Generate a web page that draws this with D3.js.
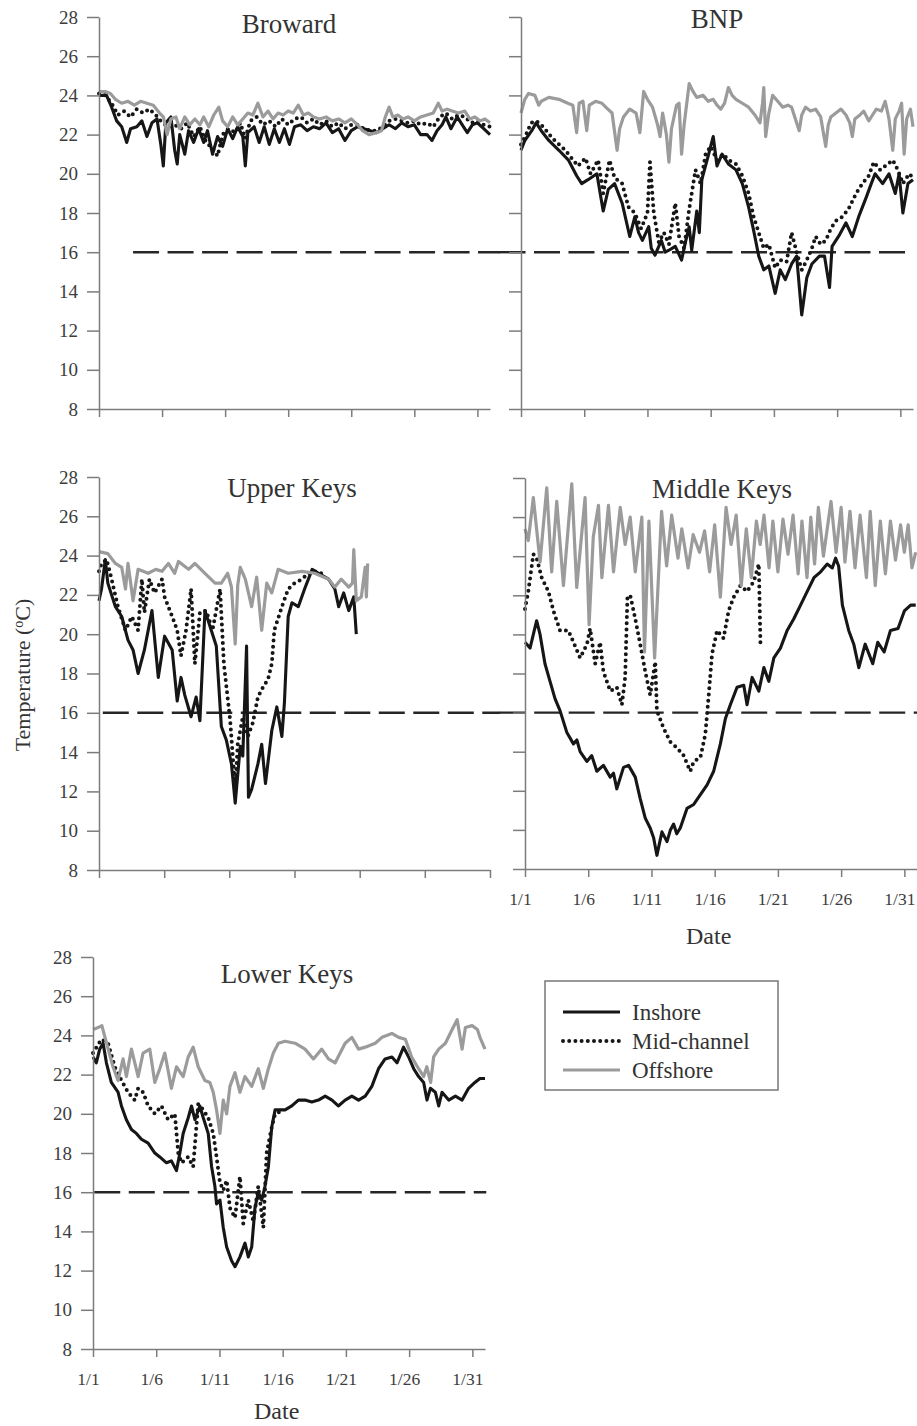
<!DOCTYPE html>
<meta charset="utf-8">
<script src="https://cdn.jsdelivr.net/npm/d3@7"></script>
<style>
body { margin: 0; background: #fff; }
svg { display: block; font-family: "Liberation Serif", "Times New Roman", serif; }
.axis path, .axis line { stroke: #7c7c7c; stroke-width: 1.5; }
.axis text { fill: #3c3c3c; font-size: 19px; font-family: "Liberation Serif", "Times New Roman", serif; }
.xaxis text { font-size: 17.5px; }
.inshore { fill: none; stroke: #161616; stroke-width: 3.1; stroke-linejoin: round; }
.mid { fill: none; stroke: #161616; stroke-width: 4; stroke-dasharray: 0 6.2; stroke-linecap: round; }
.offshore { fill: none; stroke: #9b9b9b; stroke-width: 3.2; stroke-linejoin: round; }
.threshold { stroke: #262626; stroke-width: 2.4; stroke-dasharray: 26 8.5; }
.title { font-size: 27px; fill: #333; text-anchor: middle; }
.label { font-size: 24px; fill: #333; text-anchor: middle; }
</style>
<svg width="917" height="1426"></svg>
<script>

// day offsets from 1/1, temperature in degC
var tempTicks = [8, 10, 12, 14, 16, 18, 20, 22, 24, 26, 28];
var dateTicks = [0, 5, 10, 15, 20, 25, 30];
var dateLabels = ["1/1", "1/6", "1/11", "1/16", "1/21", "1/26", "1/31"];
var upperTicks = [0, 5.17, 10.33, 15.5, 20.67, 25.83, 31];
var threshold = 16;
var seriesNames = ["Inshore", "Mid-channel", "Offshore"];

var browardInshore = [[0,24.0],[0.6,24.0],[1.0,23.4],[1.4,22.7],[1.8,22.4],[2.2,21.6],[2.5,22.3],[3.0,22.4],[3.4,22.7],[3.8,21.9],[4.2,22.6],[4.6,22.8],[4.9,21.5],[5.1,20.4],[5.3,22.6],[5.7,22.9],[6.0,21.2],[6.2,20.5],[6.4,22.0],[6.8,21.0],[7.1,22.2],[7.5,21.6],[7.9,22.3],[8.3,21.6],[8.6,22.2],[9.0,21.0],[9.4,21.9],[9.8,21.4],[10.2,22.3],[10.6,21.8],[11.0,22.4],[11.4,21.9],[11.6,20.4],[11.8,22.1],[12.3,22.4],[12.7,21.6],[13.1,22.4],[13.5,21.5],[13.9,22.3],[14.3,21.6],[14.7,22.3],[15.1,21.5],[15.5,22.4],[16.0,22.5],[16.5,22.2],[17.0,22.4],[17.5,22.3],[18.0,22.6],[18.5,22.1],[19.0,22.3],[19.5,21.7],[20.0,22.2],[20.5,22.4],[21.0,22.3],[21.5,22.2],[22.0,22.1],[22.5,22.3],[23.0,22.5],[23.5,22.3],[24.0,22.6],[24.5,22.4],[25.0,22.5],[25.5,22.0],[26.0,22.0],[26.4,21.7],[26.8,22.2],[27.2,22.5],[27.5,22.9],[27.9,22.3],[28.4,22.9],[28.8,22.5],[29.2,22.1],[29.6,22.5],[30.0,22.6],[30.5,22.3],[31.0,22.0]];
var browardMid = [[0,24.1],[0.5,24.0],[1.0,23.6],[1.5,23.0],[2.0,23.2],[2.5,22.9],[3.0,23.3],[3.5,23.1],[4.0,23.3],[4.5,23.0],[5.0,22.6],[5.5,22.4],[6.0,22.5],[6.5,22.3],[7.0,22.6],[7.5,21.9],[8.0,22.4],[8.5,21.6],[9.0,21.3],[9.4,20.9],[9.8,22.0],[10.3,22.3],[10.8,22.1],[11.2,22.6],[11.6,21.8],[12.0,22.7],[12.5,22.9],[13.0,22.5],[13.5,22.7],[14.0,22.4],[14.5,22.8],[15.0,22.5],[15.5,22.8],[16.0,22.9],[16.5,22.6],[17.0,22.8],[17.5,22.5],[18.0,22.7],[18.5,22.4],[19.0,22.6],[19.5,22.3],[20.0,22.5],[20.5,22.5],[21.0,22.3],[21.5,22.2],[22.0,22.2],[22.5,22.4],[23.0,22.7],[23.5,22.8],[24.0,22.7],[24.5,22.6],[25.0,22.7],[25.5,22.5],[26.0,22.6],[26.5,22.4],[27.0,22.9],[27.5,23.1],[28.0,22.8],[28.5,23.0],[29.0,22.9],[29.5,22.6],[30.0,22.7],[30.5,22.5],[31.0,22.4]];
var browardOffshore = [[0,24.2],[0.5,24.2],[0.9,24.1],[1.3,23.8],[1.8,23.6],[2.3,23.7],[2.8,23.5],[3.3,23.7],[3.8,23.6],[4.3,23.5],[4.8,23.1],[5.1,22.9],[5.4,22.0],[5.7,22.8],[6.1,22.9],[6.4,22.3],[6.8,22.9],[7.2,22.5],[7.6,22.8],[8.0,22.5],[8.3,22.9],[8.7,22.4],[9.1,23.0],[9.5,23.4],[9.8,22.7],[10.2,22.4],[10.6,22.9],[11.0,22.5],[11.4,22.8],[11.8,23.1],[12.2,23.0],[12.6,23.6],[13.0,22.9],[13.4,23.2],[13.8,22.8],[14.2,23.1],[14.6,23.0],[15.0,23.2],[15.4,23.1],[15.8,23.5],[16.2,23.0],[16.6,23.1],[17.0,22.9],[17.5,22.8],[18.0,22.9],[18.5,22.7],[19.0,22.8],[19.5,22.6],[20.0,22.8],[20.5,22.5],[20.9,22.2],[21.4,22.0],[22.0,22.1],[22.4,22.2],[22.7,22.9],[23.0,23.4],[23.3,22.9],[23.7,23.0],[24.1,22.8],[24.5,22.9],[25.0,22.7],[25.5,22.9],[26.0,23.0],[26.5,23.1],[26.9,23.6],[27.2,23.2],[27.6,23.3],[28.0,23.2],[28.5,23.1],[29.0,23.2],[29.4,22.8],[29.8,22.9],[30.2,22.7],[30.6,22.8],[31.0,22.6]];

var bnpInshore = [[0,21.2],[0.3,21.7],[0.85,22.2],[1.2,22.6],[1.6,22.2],[2.2,21.7],[3.0,21.2],[3.75,20.7],[4.4,19.9],[4.8,19.5],[5.3,19.7],[6.0,20.0],[6.5,18.1],[6.9,19.2],[7.4,19.5],[8.0,18.5],[8.6,16.8],[9.0,17.8],[9.3,17.0],[9.6,16.6],[10.1,17.3],[10.3,16.2],[10.6,15.85],[11.1,16.6],[11.4,16.0],[11.7,16.1],[12.2,16.3],[12.7,15.6],[13.0,16.5],[13.3,17.3],[13.5,16.1],[13.9,18.1],[14.1,17.0],[14.3,19.7],[14.8,20.9],[15.2,21.9],[15.5,20.4],[15.9,21.0],[16.4,20.5],[17.0,20.2],[17.5,19.5],[18.0,18.3],[18.4,17.1],[18.8,15.8],[19.2,15.1],[19.6,15.3],[20.1,13.9],[20.5,15.1],[20.9,14.6],[21.4,15.4],[21.8,15.8],[22.2,12.8],[22.6,14.7],[23.0,15.4],[23.6,15.8],[24.0,15.8],[24.4,14.2],[24.6,16.3],[25.2,16.9],[25.7,17.5],[26.2,16.8],[26.7,17.8],[27.3,18.8],[27.7,19.5],[28.0,20.0],[28.6,19.5],[29.1,20.0],[29.6,19.0],[29.9,20.0],[30.2,18.0],[30.6,19.5],[31.0,19.7]];
var bnpMid = [[0,21.5],[0.4,22.0],[0.8,22.6],[1.2,22.7],[1.6,22.5],[2.0,22.2],[2.5,21.8],[3.0,21.5],[3.5,21.2],[4.0,20.8],[4.5,20.4],[5.1,20.8],[5.5,20.0],[6.1,20.7],[6.5,19.0],[7.0,20.7],[7.4,19.8],[8.0,19.5],[8.5,18.3],[9.0,18.0],[9.5,17.2],[10.0,18.0],[10.2,20.6],[10.5,18.0],[10.9,16.5],[11.3,17.0],[11.7,16.4],[12.2,18.5],[12.5,16.8],[12.9,16.2],[13.3,18.2],[13.8,20.2],[14.2,19.5],[14.6,21.0],[15.0,21.4],[15.5,20.7],[16.0,21.0],[16.4,20.7],[17.0,20.5],[17.5,19.9],[18.0,19.0],[18.4,17.8],[18.8,17.0],[19.2,16.2],[19.6,16.4],[20.1,15.2],[20.5,15.6],[21.0,15.5],[21.4,17.0],[21.8,16.0],[22.2,15.1],[22.6,15.6],[23.0,16.2],[23.3,16.8],[23.7,16.4],[24.1,16.6],[24.5,17.2],[24.9,17.6],[25.4,17.8],[25.9,18.2],[26.5,19.0],[27.0,19.5],[27.5,19.9],[27.9,20.6],[28.4,20.2],[28.8,20.4],[29.4,20.7],[29.8,20.2],[30.2,19.5],[30.7,20.0],[31.0,19.8]];
var bnpOffshore = [[0,23.1],[0.3,23.8],[0.6,24.1],[1.1,24.0],[1.4,23.5],[1.6,23.7],[2.2,23.9],[3.0,23.8],[3.7,23.6],[4.1,23.5],[4.4,22.1],[4.6,23.6],[4.9,23.7],[5.2,22.2],[5.4,23.5],[5.9,23.7],[6.4,23.6],[6.7,23.4],[7.2,23.1],[7.6,21.2],[7.8,22.3],[8.1,22.9],[8.6,23.3],[9.1,23.1],[9.4,22.1],[9.7,24.2],[10.0,23.8],[10.4,23.4],[10.8,22.5],[11.0,21.9],[11.2,23.1],[11.5,22.0],[11.7,20.6],[11.9,22.3],[12.3,23.5],[12.5,23.6],[12.7,21.0],[12.9,22.5],[13.3,24.6],[13.6,24.2],[13.9,23.9],[14.4,24.0],[14.8,23.7],[15.2,23.8],[15.5,23.5],[15.8,23.3],[16.1,23.6],[16.4,24.4],[16.7,24.0],[17.0,23.8],[17.5,23.6],[18.0,23.4],[18.5,23.0],[18.9,22.6],[19.1,23.6],[19.2,24.4],[19.35,21.9],[19.6,23.1],[19.9,24.0],[20.3,23.7],[20.7,23.4],[21.1,23.5],[21.4,23.4],[21.7,22.8],[22.0,22.2],[22.2,23.0],[22.5,23.4],[22.9,23.2],[23.3,23.3],[23.7,22.9],[24.1,21.4],[24.3,22.5],[24.5,22.9],[24.9,23.1],[25.3,23.3],[25.7,23.0],[26.0,22.6],[26.2,21.9],[26.4,22.8],[26.8,23.0],[27.1,23.2],[27.5,22.7],[27.8,23.0],[28.1,23.3],[28.5,23.2],[28.8,23.7],[29.1,22.8],[29.4,21.2],[29.6,22.8],[29.9,23.2],[30.1,23.6],[30.3,21.0],[30.5,22.8],[30.8,23.3],[31.0,22.4]];

var upperInshore = [[0,21.7],[0.2,22.3],[0.5,23.8],[0.7,22.6],[1.3,21.4],[1.8,20.9],[2.3,19.7],[2.7,19.2],[3.1,18.0],[3.6,19.2],[4.2,21.2],[4.7,17.8],[5.2,19.9],[5.8,19.2],[6.2,16.6],[6.5,17.8],[6.8,16.9],[7.3,15.8],[7.7,16.8],[8.0,15.6],[8.4,21.2],[8.9,20.2],[9.3,19.4],[9.7,15.3],[10.1,14.6],[10.5,13.4],[10.8,11.4],[11.2,14.3],[11.4,13.8],[11.7,19.4],[11.85,11.7],[12.1,12.1],[12.6,13.4],[12.9,14.4],[13.2,12.4],[13.7,15.1],[14.1,16.3],[14.5,14.8],[14.7,16.5],[15.0,20.9],[15.3,21.6],[15.8,21.4],[16.3,22.3],[16.9,23.3],[17.4,23.1],[18.2,22.8],[18.7,22.3],[19.0,21.4],[19.4,22.1],[19.8,21.2],[20.2,21.9],[20.4,20.0]];
var upperMid = [[0,23.2],[0.2,23.6],[0.6,23.8],[1.0,22.8],[1.5,21.4],[2.1,20.2],[2.6,20.9],[3.1,20.2],[3.4,22.8],[3.6,21.1],[4.0,22.8],[4.4,22.1],[5.0,22.8],[5.2,21.9],[5.8,20.9],[6.2,20.2],[6.5,18.9],[6.9,20.2],[7.3,22.3],[7.6,18.5],[8.0,21.1],[8.5,21.2],[9.0,20.2],[9.6,22.3],[9.9,18.5],[10.4,15.6],[10.8,12.1],[11.0,14.4],[11.4,15.8],[11.8,14.8],[12.2,15.5],[12.6,16.8],[13.0,17.3],[13.4,17.7],[13.7,18.5],[13.9,20.2],[14.5,21.4],[15.0,22.3],[15.5,22.6],[16.1,22.8],[16.6,23.1],[17.2,23.2],[18.0,23.0]];
var upperOffshore = [[0,24.2],[0.7,24.1],[1.3,23.6],[1.8,23.4],[2.1,22.3],[2.3,23.6],[2.7,21.7],[3.1,23.3],[3.9,23.1],[4.5,23.3],[5.0,23.2],[5.5,23.6],[6.0,23.1],[6.3,23.7],[7.1,23.3],[7.6,23.6],[8.4,23.1],[9.2,22.6],[9.7,22.6],[10.2,23.1],[10.5,22.4],[10.8,19.5],[11.0,22.5],[11.2,23.4],[11.6,22.8],[12.1,21.4],[12.5,22.9],[12.9,20.2],[13.3,22.6],[13.7,22.1],[14.2,23.3],[15.0,23.1],[16.1,23.2],[17.1,23.1],[18.2,22.8],[18.7,22.4],[19.2,22.8],[19.8,22.4],[20.1,22.6],[20.2,24.3],[20.4,21.7],[20.8,21.9],[21.1,23.4],[21.2,21.9],[21.3,23.6]];

var middleInshore = [[0,19.6],[0.4,19.3],[0.66,20.0],[0.92,20.7],[1.19,20.0],[1.58,18.5],[1.98,17.6],[2.38,16.7],[2.77,16.1],[3.3,15.0],[3.83,14.4],[4.1,14.6],[4.36,14.0],[4.89,13.5],[5.28,13.8],[5.68,13.0],[6.2,13.3],[6.74,12.7],[7.0,12.9],[7.26,12.1],[7.79,13.2],[8.19,13.3],[8.72,12.7],[9.11,11.6],[9.51,10.6],[9.9,10.1],[10.17,9.6],[10.43,8.7],[10.83,9.9],[11.23,9.4],[11.5,10.0],[11.75,10.3],[12.0,9.8],[12.28,10.1],[12.81,11.1],[13.34,11.3],[13.87,11.8],[14.4,12.3],[14.92,13.0],[15.45,14.4],[15.85,15.7],[16.24,16.4],[16.77,17.3],[17.3,17.4],[17.56,16.4],[17.96,17.8],[18.49,17.1],[18.89,18.3],[19.28,17.6],[19.68,18.8],[20.2,19.3],[20.73,20.2],[21.26,20.8],[21.79,21.5],[22.32,22.2],[22.85,22.9],[23.38,23.2],[23.9,23.6],[24.3,23.4],[24.56,23.9],[24.8,23.5],[25.1,21.5],[25.6,20.2],[26.0,19.5],[26.4,18.3],[26.9,19.5],[27.5,18.5],[27.9,19.6],[28.4,19.1],[28.9,20.2],[29.5,20.3],[30.0,21.2],[30.5,21.5],[30.9,21.5]];
var middleMid = [[0,21.3],[0.26,22.2],[0.66,24.1],[0.92,23.9],[1.32,22.9],[1.85,22.2],[2.25,21.2],[2.77,20.2],[3.43,20.2],[3.83,19.6],[4.36,18.8],[4.9,19.5],[5.15,20.3],[5.55,18.5],[5.94,19.6],[6.2,18.1],[6.74,17.1],[7.26,17.3],[7.66,16.4],[7.92,17.8],[8.1,21.9],[8.32,22.0],[8.72,20.8],[9.11,19.5],[9.51,18.1],[9.9,16.9],[10.3,18.6],[10.43,16.1],[10.96,15.2],[11.49,14.5],[12.02,14.2],[12.55,13.8],[13.07,13.0],[13.34,13.5],[13.87,13.7],[14.26,14.9],[14.53,16.9],[14.79,19.0],[15.19,20.2],[15.7,19.8],[16.1,21.2],[16.5,21.9],[17.04,22.5],[17.56,22.2],[18.09,22.7],[18.49,23.6],[18.62,19.5]];
var middleOffshore = [[0,25.4],[0.26,24.8],[0.66,27.0],[1.19,23.7],[1.72,27.5],[2.11,23.2],[2.51,26.8],[3.04,22.5],[3.7,27.7],[4.09,22.4],[4.75,27.0],[5.07,20.5],[5.4,25.0],[5.81,26.6],[6.08,22.9],[6.6,26.6],[7.0,23.2],[7.53,26.5],[7.92,24.6],[8.32,26.0],[8.72,23.2],[9.24,26.0],[9.45,19.1],[9.8,25.8],[10.25,18.8],[10.8,26.3],[11.2,23.5],[11.6,26.1],[12.1,23.9],[12.4,25.4],[12.9,23.4],[13.3,25.1],[13.8,24.2],[14.2,25.3],[14.6,23.2],[15.0,25.6],[15.45,21.9],[15.9,26.5],[16.3,24.6],[16.7,26.1],[17.1,22.5],[17.5,25.4],[17.9,22.9],[18.3,25.8],[18.6,24.6],[18.9,26.1],[19.3,23.4],[19.6,25.8],[20.0,23.2],[20.4,25.9],[20.8,24.1],[21.2,26.1],[21.6,23.1],[21.9,25.8],[22.3,22.9],[22.6,26.0],[22.9,23.6],[23.2,26.5],[23.6,24.0],[24.2,26.8],[24.6,24.2],[25.0,26.5],[25.3,23.7],[25.7,26.3],[26.1,23.4],[26.5,26.1],[27.0,22.9],[27.3,26.3],[27.7,22.5],[28.1,25.8],[28.5,23.1],[28.9,25.8],[29.3,23.8],[29.7,25.6],[30.0,24.2],[30.3,25.6],[30.6,23.4],[30.9,24.2]];

var lowerInshore = [[0,22.9],[0.26,22.6],[0.53,23.3],[0.8,23.6],[1.06,22.6],[1.45,21.6],[1.98,21.1],[2.25,20.4],[2.64,19.7],[3.04,19.2],[3.43,19.0],[3.83,18.7],[4.36,18.5],[4.89,18.0],[5.28,17.8],[5.81,17.5],[6.2,17.6],[6.6,17.1],[6.87,18.0],[7.13,19.0],[7.53,19.8],[7.79,20.4],[8.06,19.7],[8.45,20.4],[8.72,19.8],[9.11,19.0],[9.38,17.3],[9.64,16.3],[9.77,15.4],[10.04,15.6],[10.3,14.2],[10.57,13.2],[10.96,12.5],[11.23,12.2],[11.62,12.7],[12.02,13.4],[12.28,12.7],[12.55,13.2],[12.81,15.2],[13.07,16.0],[13.34,15.6],[13.6,16.3],[13.87,17.3],[14.13,19.3],[14.4,20.2],[14.79,20.2],[15.19,20.2],[15.72,20.4],[16.24,20.7],[16.77,20.7],[17.3,20.6],[17.83,20.7],[18.36,20.9],[18.9,20.7],[19.4,20.4],[19.94,20.7],[20.47,20.9],[21.0,20.7],[21.53,20.9],[22.05,21.4],[22.58,22.3],[23.1,22.8],[23.64,22.9],[24.04,22.6],[24.56,23.4],[24.96,22.9],[25.36,22.3],[25.75,21.9],[26.15,21.6],[26.41,20.7],[26.68,21.3],[27.07,21.1],[27.34,20.4],[27.6,21.1],[28.13,20.7],[28.66,20.9],[29.19,20.7],[29.7,21.3],[30.2,21.6],[30.6,21.8],[31.0,21.8]];
var lowerMid = [[0,23.1],[0.66,23.8],[1.19,23.6],[1.72,22.4],[2.25,21.7],[2.77,21.1],[3.3,20.7],[3.57,21.3],[3.96,21.1],[4.36,20.4],[4.89,20.0],[5.41,20.4],[5.94,19.7],[6.47,20.0],[6.74,18.0],[7.0,17.5],[7.53,17.8],[7.92,17.3],[8.32,20.5],[8.72,20.2],[9.11,19.8],[9.51,19.0],[9.77,17.8],[10.04,16.5],[10.3,16.1],[10.57,16.6],[10.83,15.2],[11.23,14.7],[11.62,16.8],[11.88,14.4],[12.28,15.6],[12.68,14.5],[13.07,16.3],[13.47,14.2],[13.73,18.0],[14.13,19.3],[14.4,20.0],[14.8,20.1]];
var lowerOffshore = [[0,24.3],[0.4,24.4],[0.7,24.5],[1.2,23.3],[1.58,22.4],[1.98,21.7],[2.38,22.8],[2.64,21.9],[3.04,23.3],[3.57,21.9],[3.96,23.1],[4.49,23.3],[4.89,21.6],[5.28,22.3],[5.68,23.1],[6.2,21.3],[6.6,22.4],[7.13,21.9],[7.53,22.9],[7.92,23.4],[8.32,22.4],[8.85,21.7],[9.24,21.6],[9.51,21.1],[9.77,20.2],[10.04,19.0],[10.3,20.7],[10.57,20.0],[10.83,21.4],[11.23,22.1],[11.62,21.1],[12.02,21.9],[12.55,21.4],[13.07,22.3],[13.47,21.3],[13.87,22.3],[14.26,23.1],[14.66,23.6],[15.19,23.7],[15.98,23.6],[16.77,23.3],[17.43,22.8],[18.09,23.3],[18.62,22.8],[19.15,22.6],[19.94,23.6],[20.47,23.9],[21.0,23.3],[21.53,23.4],[22.32,23.6],[22.85,23.9],[23.64,24.1],[24.17,23.9],[24.7,23.8],[25.2,22.9],[25.75,22.3],[26.15,21.9],[26.4,22.4],[26.7,21.6],[26.94,22.9],[27.34,23.3],[27.87,23.6],[28.4,24.3],[28.8,24.8],[29.19,23.3],[29.45,24.4],[29.98,24.5],[30.4,24.3],[30.6,23.9],[31.0,23.3]];

// panel layout
var panels = [
    {name: "Broward", left: 99, top: 17, width: 391, height: 392, ticks: dateTicks, labels: false, yLabels: true,
        titleX: 289, titleY: 33, dash: [2.7, 31.8], series: [browardInshore, browardMid, browardOffshore]},
    {name: "BNP", left: 521, top: 17, width: 392, height: 392, ticks: dateTicks, labels: false, yLabels: false,
        titleX: 717, titleY: 28, dash: [-1.7, 31], series: [bnpInshore, bnpMid, bnpOffshore]},
    {name: "Upper Keys", left: 99, top: 477, width: 391, height: 393, ticks: upperTicks, labels: false, yLabels: true,
        titleX: 292, titleY: 497, dash: [0.3, 31.8], series: [upperInshore, upperMid, upperOffshore]},
    {name: "Middle Keys", left: 525, top: 478, width: 392, height: 391, ticks: dateTicks, labels: true, yLabels: false,
        titleX: 722, titleY: 498, dash: [-2, 31], series: [middleInshore, middleMid, middleOffshore]},
    {name: "Lower Keys", left: 93, top: 957, width: 392, height: 392, ticks: dateTicks, labels: true, yLabels: true,
        titleX: 287, titleY: 983, dash: [0.1, 31.1], series: [lowerInshore, lowerMid, lowerOffshore]}
];

var classes = ["inshore", "mid", "offshore"];
var serif = "'Liberation Serif', 'Times New Roman', serif";
var svg = d3.select("svg");

panels.forEach(function(p) {
    var x = d3.scaleLinear().domain([0, 31]).range([p.left, p.left + p.width]);
    var y = d3.scaleLinear().domain([8, 28]).range([p.top + p.height, p.top]);
    var g = svg.append("g");

    // 16 degree line
    g.append("line")
        .attr("class", "threshold")
        .attr("x1", x(p.dash[0])).attr("x2", x(p.dash[1]))
        .attr("y1", y(threshold)).attr("y2", y(threshold));

    var line = d3.line()
        .x(function(d) { return x(d[0]); })
        .y(function(d) { return y(d[1]); });

    p.series.forEach(function(s, i) {
        g.append("path").datum(s).attr("class", classes[i]).attr("d", line);
    });

    var yAxis = d3.axisLeft(y).tickValues(tempTicks).tickSize(12).tickSizeOuter(0).tickPadding(9);
    if (!p.yLabels) yAxis.tickFormat("");
    g.append("g").attr("class", "axis")
        .attr("transform", "translate(" + p.left + ",0)")
        .call(yAxis)
        .attr("font-family", serif).attr("font-size", 19);

    var xAxis = d3.axisBottom(x).tickValues(p.ticks).tickSize(8).tickSizeOuter(0).tickPadding(16);
    if (p.labels) xAxis.tickFormat(function(d, i) { return dateLabels[i]; });
    else xAxis.tickFormat("");
    var xg = g.append("g").attr("class", "axis xaxis")
        .attr("transform", "translate(0," + (p.top + p.height) + ")")
        .call(xAxis)
        .attr("font-family", serif).attr("font-size", 18);
    // labels sit a little left of their ticks in the original
    xg.selectAll(".tick text").attr("dx", -5);

    g.append("text").attr("class", "title")
        .attr("x", p.titleX).attr("y", p.titleY)
        .text(p.name);

    if (p.labels) {
        g.append("text").attr("class", "label")
            .attr("x", (x(0) + x(30)) / 2 - 6)
            .attr("y", Math.min(p.top + p.height + 75, 1419))
            .text("Date");
    }
});

// y axis title
var yt = svg.append("text")
    .attr("transform", "translate(30,675) rotate(-90)")
    .attr("text-anchor", "middle")
    .style("font-size", "22px")
    .style("fill", "#333");
yt.append("tspan").text("Temperature (");
yt.append("tspan").attr("baseline-shift", "super").style("font-size", "14px").text("o");
yt.append("tspan").text("C)");

// legend
var legend = svg.append("g");
legend.append("rect")
    .attr("x", 545).attr("y", 981).attr("width", 233).attr("height", 109)
    .attr("fill", "#fff").attr("stroke", "#777").attr("stroke-width", 1.5);

seriesNames.forEach(function(n, i) {
    var ly = 1012 + i * 29;
    legend.append("line").attr("class", classes[i])
        .attr("x1", 563).attr("x2", 620).attr("y1", ly).attr("y2", ly);
    legend.append("text")
        .attr("x", 632).attr("y", ly + 8)
        .style("font-size", "23px").style("fill", "#333")
        .text(n);
});

</script>
